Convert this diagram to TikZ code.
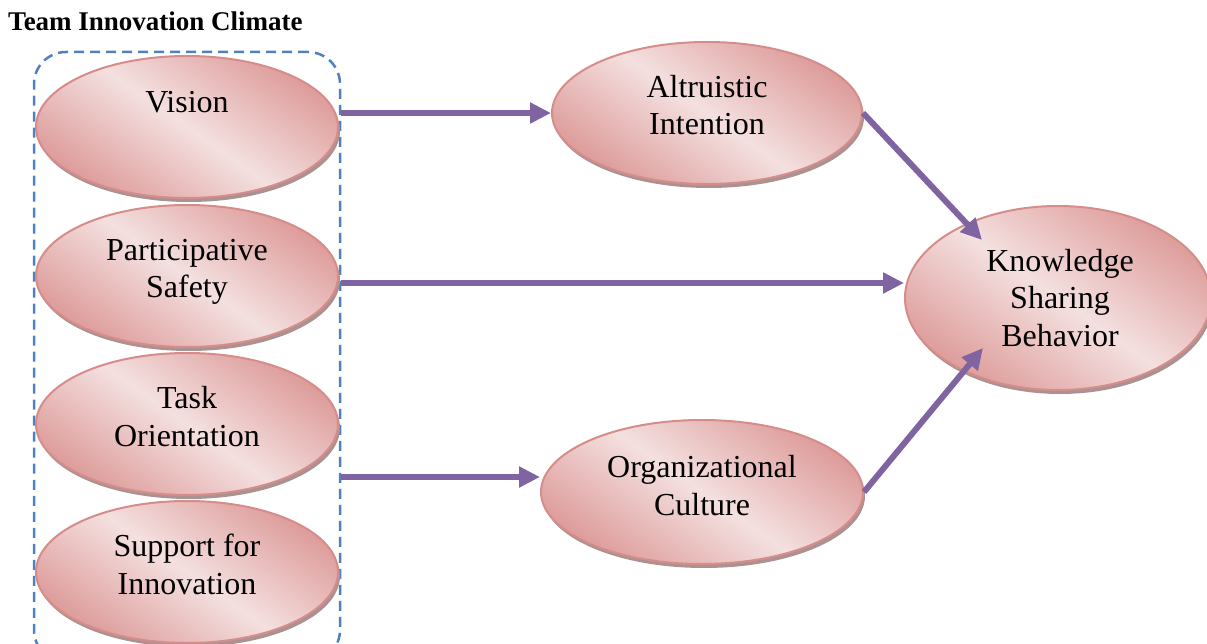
\documentclass[tikz,border=0pt]{standalone}
\usepackage{fontspec}
\setmainfont{Liberation Serif}
\usetikzlibrary{shapes.geometric,arrows.meta,shadows}
\definecolor{pinkdark}{RGB}{221,156,154}
\definecolor{pinklight}{RGB}{244,224,224}
\definecolor{pinkedge}{RGB}{214,140,138}
\definecolor{shadowc}{RGB}{170,146,146}
\definecolor{arrowc}{RGB}{128,100,162}
\definecolor{boxblue}{RGB}{79,129,189}
\begin{document}
\begin{tikzpicture}[x=1pt,y=1pt,
  ell/.style={ellipse, draw=pinkedge, line width=2pt, top color=pinkdark, bottom color=pinkdark, middle color=pinklight, shading angle=-35, inner sep=0pt,
    drop shadow={shadow xshift=2pt, shadow yshift=-4pt, fill=shadowc, opacity=1}},
  lbl/.style={font=\fontsize{32}{37.5}\selectfont, align=center, anchor=base, inner sep=0pt},
  conn/.style={draw=arrowc, line width=6pt, -{Triangle[length=21pt,width=20pt]}},
  grpbox/.style={draw=boxblue, dash pattern=on 10pt off 6pt, line width=2.5pt, rounded corners=32pt, inner sep=0pt}]
\useasboundingbox (0,0) rectangle (1207,-644);
% title
\node[font=\bfseries\fontsize{27}{30}\selectfont, anchor=base west, inner sep=0pt] (title) at (8,-31) {Team Innovation Climate};
% group box
\node[grpbox, minimum width=306pt, minimum height=610pt] (grp) at (187,-357) {};
% left ellipses
\node[ell, minimum width=302pt, minimum height=142pt] (vis) at (187,-127) {};
\node[ell, minimum width=302pt, minimum height=142pt] (par) at (187,-276) {};
\node[ell, minimum width=302pt, minimum height=142pt] (tsk) at (187,-424) {};
\node[ell, minimum width=302pt, minimum height=142pt] (sup) at (187,-572) {};
% middle and right
\node[ell, minimum width=310pt, minimum height=142pt] (alt) at (707,-113) {};
\node[ell, minimum width=322pt, minimum height=144pt] (org) at (702,-492) {};
\node[ell, minimum width=306pt, minimum height=184pt] (ksb) at (1058,-298) {};
% texts (anchored at the baseline of the last line)
\node[lbl] (vist) at (187,-113) {Vision};
\node[lbl] (part) at (187,-298) {Participative\\Safety};
\node[lbl] (tskt) at (187,-446) {Task\\Orientation};
\node[lbl] (supt) at (187,-594) {Support for\\Innovation};
\node[lbl] (altt) at (707,-135) {Altruistic\\Intention};
\node[lbl] (orgt) at (702,-515) {Organizational\\Culture};
\node[lbl] (ksbt) at (1060,-346) {Knowledge\\Sharing\\Behavior};
% connector end points
\coordinate (p2) at (grp.east |- 0,-283);
\coordinate (p3) at (grp.east |- 0,-477);
\coordinate (k1) at (982,-240);
\coordinate (k2) at (983,-348);
% connectors
\draw[conn] (alt.west -| grp.east) -- (alt.west);
\draw[conn] (p2) -- (p2 -| ksb.west);
\draw[conn] (p3) -- (p3 -| org.west);
\draw[conn] (alt.east) -- (k1);
\draw[conn] (org.east) -- (k2);
\end{tikzpicture}
\end{document}
